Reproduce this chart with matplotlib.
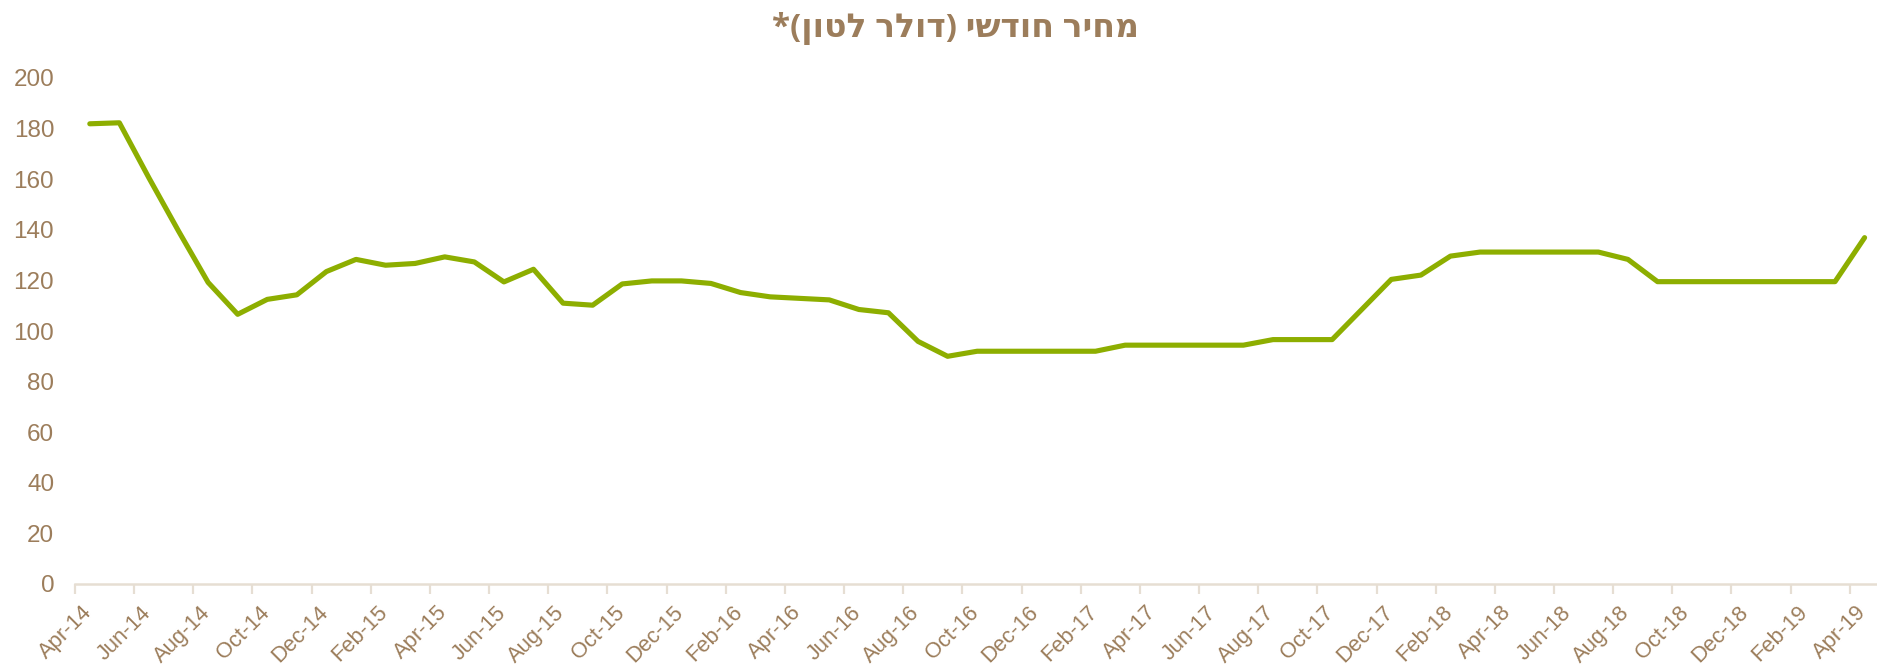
import matplotlib
matplotlib.use("Agg")
import matplotlib.pyplot as plt
import matplotlib.transforms as mtransforms
import numpy as np

# ---------------- data ----------------
title_text = "מחיר חודשי (דולר לטון)*"

month_labels = [
    "Apr-14", "May-14", "Jun-14", "Jul-14", "Aug-14", "Sep-14", "Oct-14", "Nov-14", "Dec-14",
    "Jan-15", "Feb-15", "Mar-15", "Apr-15", "May-15", "Jun-15", "Jul-15", "Aug-15", "Sep-15",
    "Oct-15", "Nov-15", "Dec-15", "Jan-16", "Feb-16", "Mar-16", "Apr-16", "May-16", "Jun-16",
    "Jul-16", "Aug-16", "Sep-16", "Oct-16", "Nov-16", "Dec-16", "Jan-17", "Feb-17", "Mar-17",
    "Apr-17", "May-17", "Jun-17", "Jul-17", "Aug-17", "Sep-17", "Oct-17", "Nov-17", "Dec-17",
    "Jan-18", "Feb-18", "Mar-18", "Apr-18", "May-18", "Jun-18", "Jul-18", "Aug-18", "Sep-18",
    "Oct-18", "Nov-18", "Dec-18", "Jan-19", "Feb-19", "Mar-19", "Apr-19",
]

prices = [
    181.9, 182.3, 160.5, 139.5, 119.2, 106.6, 112.5, 114.3, 123.5,
    128.3, 126.0, 126.7, 129.3, 127.3, 119.4, 124.4, 111.0, 110.2,
    118.6, 119.8, 119.8, 118.8, 115.2, 113.5, 112.9, 112.3, 108.5,
    107.2, 95.9, 90.0, 92.0, 92.0, 92.0, 92.0, 92.0, 94.4,
    94.4, 94.4, 94.4, 94.4, 96.6, 96.6, 96.6, 108.5, 120.4,
    122.1, 129.6, 131.2, 131.2, 131.2, 131.2, 131.2, 128.3, 119.5,
    119.5, 119.5, 119.5, 119.5, 119.5, 119.5, 136.9,
]

y_ticks = [0, 20, 40, 60, 80, 100, 120, 140, 160, 180, 200]

# ---------------- style ----------------
TEXT_COLOR = "#9C7D5B"
LINE_COLOR = "#8DAE00"
AXIS_COLOR = "#E6DED3"
FONT = ["Liberation Sans", "DejaVu Sans"]
TITLE_FONT = ["Open Sans", "DejaVu Sans"]
plt.rcParams["font.family"] = FONT

W, H = 1877, 670
DPI = 100
fig = plt.figure(figsize=(W / DPI, H / DPI), dpi=DPI)
fig.patch.set_facecolor("white")

px_per_month = 29.58
left_px, axis_y_px, top_px = 75, 584, 78
ax = fig.add_axes([left_px / W, (H - axis_y_px) / H, (W - left_px) / W, (axis_y_px - top_px) / H])

x = np.arange(len(prices)) + 0.5
ax.plot(x, prices, color=LINE_COLOR, lw=3.7, solid_capstyle="round",
        solid_joinstyle="round", clip_on=False)

ax.set_xlim(0, (W - left_px) / px_per_month)
ax.set_ylim(0, 200)

# y axis
ax.set_yticks(y_ticks)
ax.set_yticklabels([str(v) for v in y_ticks])
ax.tick_params(axis="y", length=0, pad=15, labelsize=17.5, labelcolor=TEXT_COLOR)

# x axis: tick marks at month boundaries every 2 months, labels at category centres
n = len(month_labels)
tick_idx = list(range(0, n, 2))
ax.set_xticks(tick_idx, minor=True)
ax.set_xticks([i + 0.5 for i in tick_idx])
ax.set_xticklabels([month_labels[i] for i in tick_idx], rotation=45,
                   ha="right", va="center", rotation_mode="anchor")
ax.tick_params(axis="x", which="major", length=0, pad=10, labelsize=18, labelcolor=TEXT_COLOR)
ax.tick_params(axis="x", which="minor", length=7, width=1.6, color=AXIS_COLOR)

for s in ["top", "right", "left"]:
    ax.spines[s].set_visible(False)
ax.spines["bottom"].set_color(AXIS_COLOR)
ax.spines["bottom"].set_linewidth(1.8)

# --- calibrate x label size / position to the reference layout ---
fig.canvas.draw()
r = fig.canvas.get_renderer()
labs = ax.get_xticklabels()
b_first = labs[0].get_window_extent(r)
b_dec = labs[28].get_window_extent(r)
new_size = 18 * (60 + 66) / (b_first.width + b_dec.width)
ax.tick_params(axis="x", which="major", labelsize=new_size)
fig.canvas.draw()
labs = ax.get_xticklabels()
b_first = labs[0].get_window_extent(r)
dx = 96 - b_first.x1
dy = (H - 602) - b_first.y1
shift = mtransforms.ScaledTranslation(dx / DPI, dy / DPI, fig.dpi_scale_trans)
for lab in labs:
    lab.set_transform(lab.get_transform() + shift)

# Title (matplotlib has no bidi: convert logical Hebrew order to visual order)
swap = {"(": ")", ")": "("}
title_visual = "".join(swap.get(c, c) for c in title_text[::-1])
t = fig.text(955 / W, 1 - 37 / H, title_visual, ha="center", va="baseline",
             fontsize=20, fontweight="bold", color=TEXT_COLOR, family=TITLE_FONT)
tw = t.get_window_extent(r).width
t.set_fontsize(20 * 368 / tw)

fig.savefig("out.png", dpi=DPI, facecolor="white")
